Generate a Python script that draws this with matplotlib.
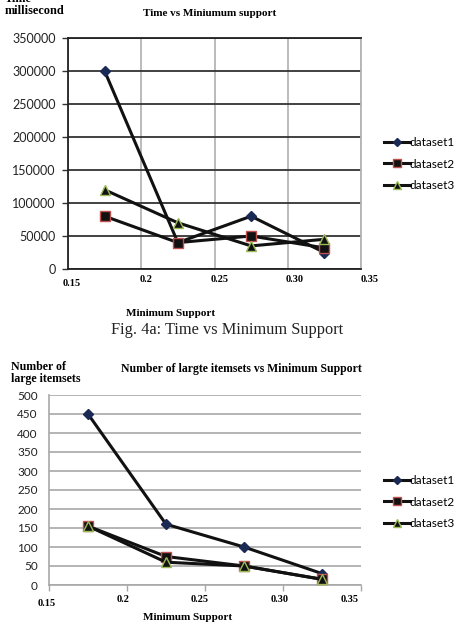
import matplotlib.pyplot as plt
from matplotlib.ticker import FixedLocator

# data
support = [0.175, 0.225, 0.275, 0.325]
xtick_vals = [0.15, 0.2, 0.25, 0.30, 0.35]
xtick_labels = ['0.15', '0.2', '0.25', '0.30', '0.35']

time_ds1 = [300000, 40000, 80000, 25000]
time_ds2 = [80000, 40000, 50000, 32000]
time_ds3 = [120000, 70000, 35000, 45000]

items_ds1 = [450, 160, 100, 30]
items_ds2 = [155, 75, 50, 15]
items_ds3 = [155, 60, 50, 15]

names = ['dataset1', 'dataset2', 'dataset3']

W, H = 457, 625
SERIF = 'Liberation Serif'
SANS = 'Lato'


def px_axes(fig, left, top, right, bottom):
    return fig.add_axes([left / W, 1 - bottom / H, (right - left) / W, (bottom - top) / H])


def draw_series(ax, series):
    styles = [
        dict(marker='D', markersize=5, markerfacecolor='#1b2a55', markeredgecolor='#1b2a55'),
        dict(marker='s', markersize=6.5, markerfacecolor='#111111', markeredgecolor='#c0504d', markeredgewidth=1),
        dict(marker='^', markersize=6.5, markerfacecolor='#111111', markeredgecolor='#9bbb59', markeredgewidth=1),
    ]
    handles = []
    for vals, st, name in zip(series, styles, names):
        h, = ax.plot(support, vals, color='#111111', lw=2.2, label=name, zorder=3, clip_on=False, **st)
        handles.append(h)
    return handles


def xlabels(ax, dx, dy):
    for v, lab, ox, oy in zip(xtick_vals, xtick_labels, dx, dy):
        ax.annotate(lab, xy=(v, 0), xycoords=('data', 'axes fraction'),
                    xytext=(ox, oy), textcoords='offset pixels',
                    ha='center', va='center', fontsize=7.5, fontweight='bold', family=SERIF)


def legend(fig, handles, ymid):
    fig.legend(handles=handles, loc='center left', bbox_to_anchor=(378 / W, 1 - ymid / H),
               frameon=False, prop={'family': SANS, 'size': 8.5}, handlelength=2.2,
               handletextpad=0.0, labelspacing=0.9, borderpad=0, markerscale=0.85)


fig = plt.figure(figsize=(W / 100, H / 100), dpi=100)

# ---- top chart: time ----
ax1 = px_axes(fig, 68, 38, 361, 269)
h1 = draw_series(ax1, [time_ds1, time_ds2, time_ds3])
ax1.set_xlim(0.15, 0.35)
ax1.set_ylim(0, 350000)
ax1.set_yticks(range(0, 350001, 50000))
ax1.yaxis.grid(True, color='#333333', lw=1.3)
ax1.xaxis.set_major_locator(FixedLocator(xtick_vals))
ax1.xaxis.grid(True, color='#b5b5b5', lw=1.3)
ax1.set_xticklabels([])
ax1.tick_params(axis='x', length=0)
ax1.tick_params(axis='y', length=4, width=1, color='#333333', labelsize=9, pad=5)
for t in ax1.get_yticklabels():
    t.set_family(SANS)
    t.set_color('#222222')
for s in ['top', 'left', 'bottom']:
    ax1.spines[s].set_color('#222222')
    ax1.spines[s].set_linewidth(1.3)
ax1.spines['right'].set_color('#b5b5b5')
ax1.spines['right'].set_linewidth(1.3)
ax1.set_axisbelow(True)
xlabels(ax1, [4, 5, 5, 7, 9], [-14, -10, -10, -10, -10])

fig.text(5 / W, 1 - 17 / H, 'Time\nmillisecond', ha='left', va='bottom', fontsize=8.8,
         fontweight='bold', family=SERIF, linespacing=1.0)
fig.text(210 / W, 1 - 13 / H, 'Time vs Miniumum support', ha='center', va='center',
         fontsize=8, fontweight='bold', family=SERIF)
fig.text(171 / W, 1 - 314 / H, 'Minimum Support', ha='center', va='center',
         fontsize=8, fontweight='bold', family=SERIF)
legend(fig, h1, 164)

fig.text(227 / W, 1 - 330 / H, 'Fig. 4a: Time vs Minimum Support', ha='center', va='center',
         fontsize=11.8, family=SERIF, color='#222222')

# ---- bottom chart: large itemsets ----
ax2 = px_axes(fig, 49, 395, 361, 585)
h2 = draw_series(ax2, [items_ds1, items_ds2, items_ds3])
ax2.set_xlim(0.15, 0.35)
ax2.set_ylim(0, 500)
ax2.set_yticks(range(0, 501, 50))
ax2.yaxis.grid(True, color='#a8a8a8', lw=1.2)
ax2.set_xticks(xtick_vals)
ax2.set_xticklabels([])
ax2.tick_params(axis='x', length=4, width=1, color='#a8a8a8')
ax2.tick_params(axis='y', length=0, labelsize=8.5, pad=8)
for t in ax2.get_yticklabels():
    t.set_family(SANS)
    t.set_color('#222222')
for s in ['top', 'right']:
    ax2.spines[s].set_visible(False)
for s in ['left', 'bottom']:
    ax2.spines[s].set_color('#a8a8a8')
    ax2.spines[s].set_linewidth(1.2)
ax2.set_axisbelow(True)
xlabels(ax2, [-2, -4, -5, -3, -11], [-18, -14, -14, -14, -14])

fig.text(11 / W, 1 - 373 / H, 'Number of\nlarge itemsets', ha='left', va='center', fontsize=8.6,
         fontweight='bold', family=SERIF, linespacing=1.0)
fig.text(241 / W, 1 - 369 / H, 'Number of largte itemsets vs Minimum Support', ha='center',
         va='center', fontsize=8.5, fontweight='bold', family=SERIF)
fig.text(188 / W, 1 - 618 / H, 'Minimum Support', ha='center', va='center',
         fontsize=8, fontweight='bold', family=SERIF)
legend(fig, h2, 502)

fig.savefig('out.png', dpi=100)
